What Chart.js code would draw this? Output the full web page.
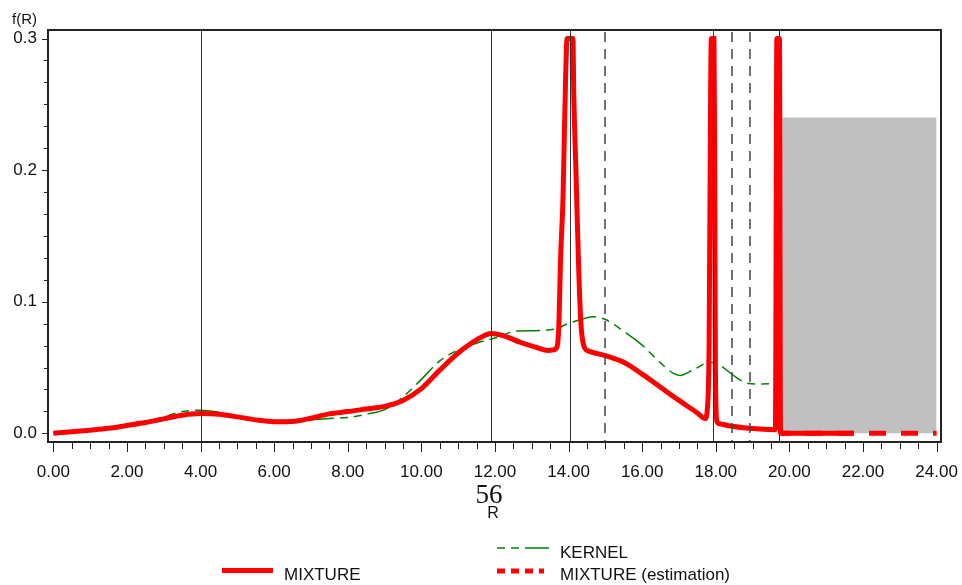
<!DOCTYPE html>
<html>
<head>
<meta charset="utf-8">
<title>f(R)</title>
<script src="https://cdn.jsdelivr.net/npm/chart.js@4.4.1/dist/chart.umd.min.js"></script>
<style>
  html, body { margin: 0; padding: 0; background: #fff; }
  canvas { display: block; }
</style>
</head>
<body>
<canvas id="densityChart" width="962" height="585"></canvas>
<script>
// fitted mixture density
const mixtureR = [0, 0.5, 1.0, 1.5, 2.0, 2.5, 3.0, 3.5, 4.0, 4.5,
  5.0, 5.5, 6.0, 6.5, 7.0, 7.5, 8.0, 8.5, 9.0, 9.5,
  10.0, 10.5, 11.0, 11.5, 11.9, 12.3, 12.7, 13.1, 13.45, 13.6,
  13.69, 13.74, 13.78, 13.85, 13.88, 13.92, 13.96, 14.12, 14.14, 14.2,
  14.27, 14.33, 14.42, 14.55, 15.0, 15.5, 16.0, 16.5, 17.0, 17.5,
  17.71, 17.78, 17.82, 17.86, 17.88, 17.95, 17.97, 17.99, 18.03, 18.1,
  18.4, 18.9, 19.3, 19.62, 19.66, 19.73, 19.76, 20.5, 21.75];
const mixtureF = [0, 0.0012, 0.0024, 0.0038, 0.006, 0.0082, 0.011, 0.0138, 0.015, 0.0145,
  0.0125, 0.0102, 0.0088, 0.009, 0.0115, 0.0148, 0.0165, 0.0185, 0.0205, 0.025,
  0.034, 0.048, 0.061, 0.071, 0.0758, 0.0735, 0.069, 0.0655, 0.063, 0.0635,
  0.066, 0.085, 0.13, 0.18, 0.22, 0.27, 0.3, 0.3, 0.26, 0.2,
  0.13, 0.086, 0.066, 0.0625, 0.059, 0.054, 0.045, 0.035, 0.025, 0.0155,
  0.0112, 0.022, 0.07, 0.26, 0.3, 0.3, 0.22, 0.05, 0.009, 0.0072,
  0.0055, 0.0038, 0.003, 0.0028, 0.3, 0.3, 0, 0, 0];

// kernel density estimate
const kernelR = [0, 0.5, 1, 1.5, 2, 2.5, 3, 3.5, 4, 4.5,
  5, 5.5, 6, 6.5, 7, 7.5, 8, 8.5, 9, 9.5,
  10, 10.5, 11, 11.5, 12, 12.25, 12.5, 13, 13.6, 14,
  14.4, 14.67, 15, 15.4, 16, 16.5, 16.85, 17.03, 17.4, 17.85,
  18.12, 18.48, 18.84, 19.2, 19.62, 19.7];
const kernelF = [0, 0.001, 0.0022, 0.0038, 0.0058, 0.0085, 0.0125, 0.0165, 0.0175, 0.016,
  0.0132, 0.0105, 0.0088, 0.009, 0.0102, 0.0113, 0.012, 0.0145, 0.018, 0.0276,
  0.041, 0.055, 0.0635, 0.0685, 0.0725, 0.075, 0.0775, 0.078, 0.079, 0.0835,
  0.087, 0.0885, 0.0865, 0.0795, 0.067, 0.0535, 0.0455, 0.044, 0.0485, 0.054,
  0.0515, 0.044, 0.0382, 0.0375, 0.038, 0.0385];

// estimated tail of the mixture
const estimR = [19.8, 24.0];
const estimF = [0, 0];

// shaded block
const shadeR = [19.8, 24.0];
const shadeF = [0.24, 0.24];

// reference lines on R
const solidR = [4.0, 11.9, 14.04, 17.92];
const dashedR = [14.99, 18.43, 18.93];
const cutoffR = 19.72;

// axis ticks
const xMajor = [0, 2, 4, 6, 8, 10, 12, 14, 16, 18, 20, 22, 24];
const yMajor = [0, 0.1, 0.2, 0.3];
const xMinorSteps = 4;
const yMinorSteps = 6;

const toPoints = (xs, ys) => xs.map((x, i) => ({ x, y: ys[i] }));

function withMinors(majors, steps) {
  const out = [];
  majors.forEach((m, i) => {
    out.push(m);
    if (i < majors.length - 1) {
      const d = (majors[i + 1] - m) / steps;
      for (let k = 1; k < steps; k++) out.push(m + d * k);
    }
  });
  return out;
}
const isMajor = (v, majors) => majors.some(m => Math.abs(m - v) < 1e-9);

Chart.defaults.font.family = '"Liberation Sans", Arial, sans-serif';
Chart.defaults.color = '#111';

const overlay = {
  id: 'overlay',
  beforeDatasetsDraw(chart) {
    const { ctx, chartArea: a, scales: { x } } = chart;
    ctx.save();
    ctx.strokeStyle = '#222';
    ctx.lineWidth = 1;
    const px = Math.round(x.getPixelForValue(cutoffR)) + 0.5;
    ctx.beginPath();
    ctx.moveTo(px, a.top);
    ctx.lineTo(px, a.bottom);
    ctx.stroke();
    ctx.restore();
  },
  afterDatasetsDraw(chart) {
    const { ctx, chartArea: a, scales: { x } } = chart;
    ctx.save();
    ctx.strokeStyle = '#333';
    ctx.lineWidth = 1;
    solidR.forEach(r => {
      const px = Math.round(x.getPixelForValue(r)) + 0.5;
      ctx.beginPath();
      ctx.moveTo(px, a.top);
      ctx.lineTo(px, a.bottom);
      ctx.stroke();
    });
    ctx.strokeStyle = '#444';
    ctx.lineWidth = 1.5;
    ctx.setLineDash([10, 7]);
    dashedR.forEach(r => {
      const px = Math.round(x.getPixelForValue(r));
      ctx.beginPath();
      ctx.moveTo(px, a.top + 2);
      ctx.lineTo(px, a.bottom);
      ctx.stroke();
    });
    ctx.restore();
  },
  afterDraw(chart) {
    const { ctx, chartArea: a, scales: { x, y } } = chart;
    ctx.save();

    // frame
    ctx.strokeStyle = '#222';
    ctx.lineWidth = 2;
    ctx.strokeRect(a.left, a.top, a.right - a.left, a.bottom - a.top);

    // tick marks
    ctx.lineWidth = 1;
    ctx.strokeStyle = '#222';
    x.ticks.forEach(t => {
      const px = Math.round(x.getPixelForValue(t.value)) + 0.5;
      ctx.beginPath();
      ctx.moveTo(px, a.bottom + 1);
      ctx.lineTo(px, a.bottom + (isMajor(t.value, xMajor) ? 10 : 7));
      ctx.stroke();
    });
    y.ticks.forEach(t => {
      const py = Math.round(y.getPixelForValue(t.value)) + 0.5;
      ctx.beginPath();
      ctx.moveTo(a.left - 1, py);
      ctx.lineTo(a.left - (isMajor(t.value, yMajor) ? 6 : 4), py);
      ctx.stroke();
    });

    // axis titles
    ctx.fillStyle = '#111';
    ctx.textBaseline = 'alphabetic';
    ctx.textAlign = 'left';
    ctx.font = '15px "Liberation Sans", Arial, sans-serif';
    ctx.fillText('f(R)', 12, 24);
    ctx.textAlign = 'center';
    ctx.font = '27px "Liberation Serif", "Times New Roman", serif';
    ctx.fillText('56', 489, 503);
    ctx.font = '16px "Liberation Sans", Arial, sans-serif';
    ctx.fillText('R', 493, 518);

    // legend
    ctx.lineCap = 'butt';
    ctx.strokeStyle = '#ff0000';
    ctx.lineWidth = 5;
    ctx.beginPath();
    ctx.moveTo(222, 570.5);
    ctx.lineTo(273, 570.5);
    ctx.stroke();

    ctx.strokeStyle = '#008000';
    ctx.lineWidth = 1.5;
    ctx.setLineDash([8, 6, 8, 6, 24, 6]);
    ctx.beginPath();
    ctx.moveTo(497, 548);
    ctx.lineTo(550, 548);
    ctx.stroke();

    ctx.strokeStyle = '#ff0000';
    ctx.lineWidth = 5;
    ctx.setLineDash([8, 6]);
    ctx.beginPath();
    ctx.moveTo(497, 571);
    ctx.lineTo(544, 571);
    ctx.stroke();
    ctx.setLineDash([]);

    ctx.textAlign = 'left';
    ctx.font = '17px "Liberation Sans", Arial, sans-serif';
    ctx.fillText('MIXTURE', 284, 580);
    ctx.fillText('KERNEL', 560, 558);
    ctx.fillText('MIXTURE (estimation)', 560, 580);
    ctx.restore();
  }
};

new Chart(document.getElementById('densityChart'), {
  type: 'line',
  data: {
    datasets: [{
      label: 'MIXTURE',
      data: toPoints(mixtureR, mixtureF),
      borderColor: '#ff0000',
      borderWidth: 5,
      cubicInterpolationMode: 'monotone',
      pointRadius: 0,
      fill: false,
      order: 1
    }, {
      label: 'MIXTURE (estimation)',
      data: toPoints(estimR, estimF),
      borderColor: '#ff0000',
      borderWidth: 5,
      borderDash: [17, 15],
      borderDashOffset: 9,
      borderCapStyle: 'butt',
      pointRadius: 0,
      fill: false,
      order: 2
    }, {
      label: 'KERNEL',
      data: toPoints(kernelR, kernelF),
      borderColor: '#008000',
      borderWidth: 1.5,
      borderDash: [8, 6, 8, 6, 24, 6],
      cubicInterpolationMode: 'monotone',
      pointRadius: 0,
      fill: false,
      order: 3
    }, {
      label: 'shade',
      data: toPoints(shadeR, shadeF),
      borderWidth: 0,
      borderColor: 'rgba(0,0,0,0)',
      backgroundColor: '#c0c0c0',
      pointRadius: 0,
      fill: 'origin',
      order: 4
    }]
  },
  options: {
    responsive: false,
    animation: false,
    layout: { padding: { left: 0, top: 30, right: 21, bottom: 0 } },
    plugins: { legend: { display: false }, tooltip: { enabled: false } },
    scales: {
      x: {
        type: 'linear',
        min: -0.145,
        max: 24.12,
        grid: { display: false, drawTicks: false },
        border: { display: false },
        afterBuildTicks: s => { s.ticks = withMinors(xMajor, xMinorSteps).map(v => ({ value: v })); },
        afterFit: s => { s.height = 143; s.paddingLeft = 0; s.paddingRight = 0; },
        ticks: {
          autoSkip: false,
          maxRotation: 0,
          padding: 20,
          font: { size: 17 },
          callback: v => isMajor(v, xMajor) ? v.toFixed(2) : ''
        }
      },
      y: {
        min: -0.0066,
        max: 0.3065,
        grid: { display: false, drawTicks: false },
        border: { display: false },
        afterBuildTicks: s => { s.ticks = withMinors(yMajor, yMinorSteps).map(v => ({ value: v })); },
        afterFit: s => { s.width = 48; s.paddingTop = 0; s.paddingBottom = 0; },
        ticks: {
          autoSkip: false,
          padding: 11,
          font: { size: 17 },
          callback: v => isMajor(v, yMajor) ? v.toFixed(1) : ''
        }
      }
    }
  },
  plugins: [overlay]
});
</script>
</body>
</html>
